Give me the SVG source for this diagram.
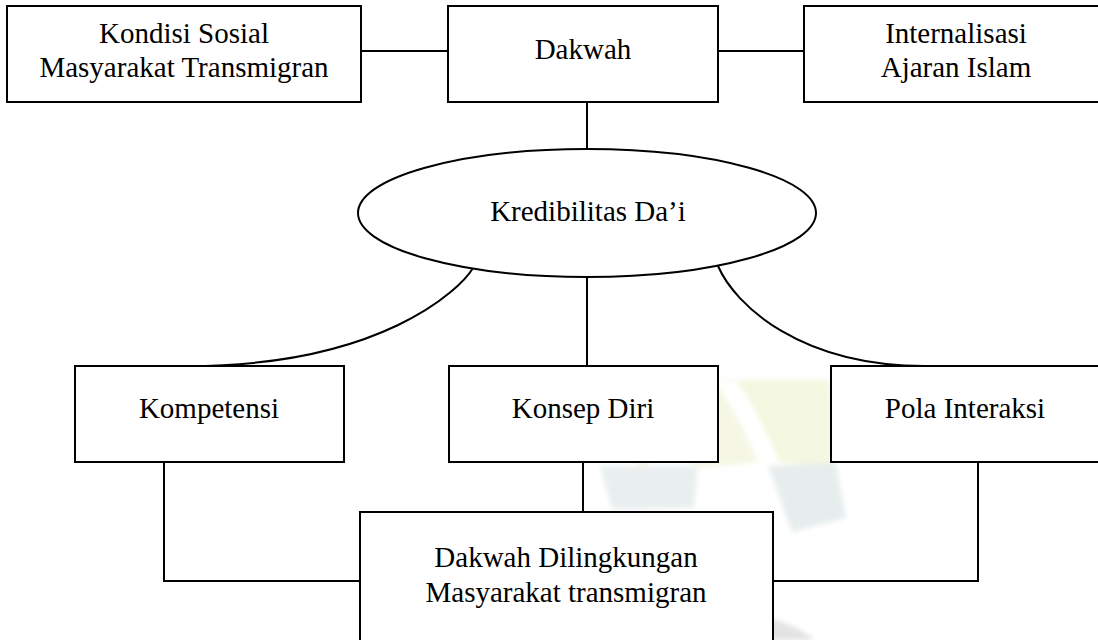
<svg xmlns="http://www.w3.org/2000/svg" width="1098" height="640" viewBox="0 0 1098 640">
  <style>
    .box { fill: #ffffff; stroke: #000000; stroke-width: 2; }
    .lbl { font-family: "Liberation Serif", "Times New Roman", "DejaVu Serif", serif; font-size: 29px; fill: #000000; text-anchor: middle; }
    .conn { fill: none; stroke: #000000; stroke-width: 2; }
  </style>
  <defs>
    <filter id="soft" x="-20%" y="-20%" width="140%" height="140%">
      <feGaussianBlur stdDeviation="2.5"/>
    </filter>
  </defs>
  <rect x="0" y="0" width="1098" height="640" fill="#ffffff"/>
  <g id="watermark" filter="url(#soft)">
    <path d="M700,380 L830,380 L832,468 L780,462 Q762,420 738,382 Z" fill="#f4f7e0"/>
    <path d="M625,420 Q665,392 718,385 Q742,422 758,462 L700,468 Q672,440 640,470 Z" fill="#f5f7e4"/>
    <path d="M768,466 L836,463 L846,518 L792,532 Z" fill="#e7eded"/>
    <path d="M600,466 L698,466 L694,508 L612,510 Z" fill="#e9efef"/>
    <path d="M748,614 Q790,620 815,640 L772,640 Q762,630 748,626 Z" fill="#e3e3e3"/>
  </g>
  <g id="connectors">
    <line class="conn" x1="361" y1="51" x2="448" y2="51"/>
    <line class="conn" x1="718" y1="51" x2="804" y2="51"/>
    <line class="conn" x1="587" y1="102" x2="587" y2="149"/>
    <line class="conn" x1="587" y1="277" x2="587" y2="366"/>
    <path class="conn" d="M473,268 C460,290 380,366 188,366"/>
    <path class="conn" d="M718,266 C735,305 800,366 925,366"/>
    <line class="conn" x1="583" y1="462" x2="583" y2="512"/>
    <polyline class="conn" points="164,462 164,581 360,581"/>
    <polyline class="conn" points="978,462 978,581 773,581"/>
  </g>
  <g id="node-kondisi">
    <rect class="box" x="7" y="6" width="354" height="96"/>
    <text class="lbl" x="184" y="43">Kondisi Sosial</text>
    <text class="lbl" x="184" y="77">Masyarakat Transmigran</text>
  </g>
  <g id="node-dakwah">
    <rect class="box" x="448" y="6" width="270" height="96"/>
    <text class="lbl" x="583" y="59">Dakwah</text>
  </g>
  <g id="node-internalisasi">
    <rect class="box" x="804" y="6" width="300" height="96"/>
    <text class="lbl" x="956" y="43">Internalisasi</text>
    <text class="lbl" x="956" y="77">Ajaran Islam</text>
  </g>
  <g id="node-kredibilitas">
    <ellipse class="box" cx="587" cy="213" rx="229" ry="64"/>
    <text class="lbl" x="588" y="221">Kredibilitas Da’i</text>
  </g>
  <g id="node-kompetensi">
    <rect class="box" x="75" y="366" width="269" height="96"/>
    <text class="lbl" x="209" y="418">Kompetensi</text>
  </g>
  <g id="node-konsep">
    <rect class="box" x="449" y="366" width="269" height="96"/>
    <text class="lbl" x="583" y="418">Konsep Diri</text>
  </g>
  <g id="node-pola">
    <rect class="box" x="831" y="366" width="280" height="96"/>
    <text class="lbl" x="965" y="418">Pola Interaksi</text>
  </g>
  <g id="node-dilingkungan">
    <rect class="box" x="360" y="512" width="413" height="140"/>
    <text class="lbl" x="566" y="567">Dakwah Dilingkungan</text>
    <text class="lbl" x="566" y="602">Masyarakat transmigran</text>
  </g>
</svg>
